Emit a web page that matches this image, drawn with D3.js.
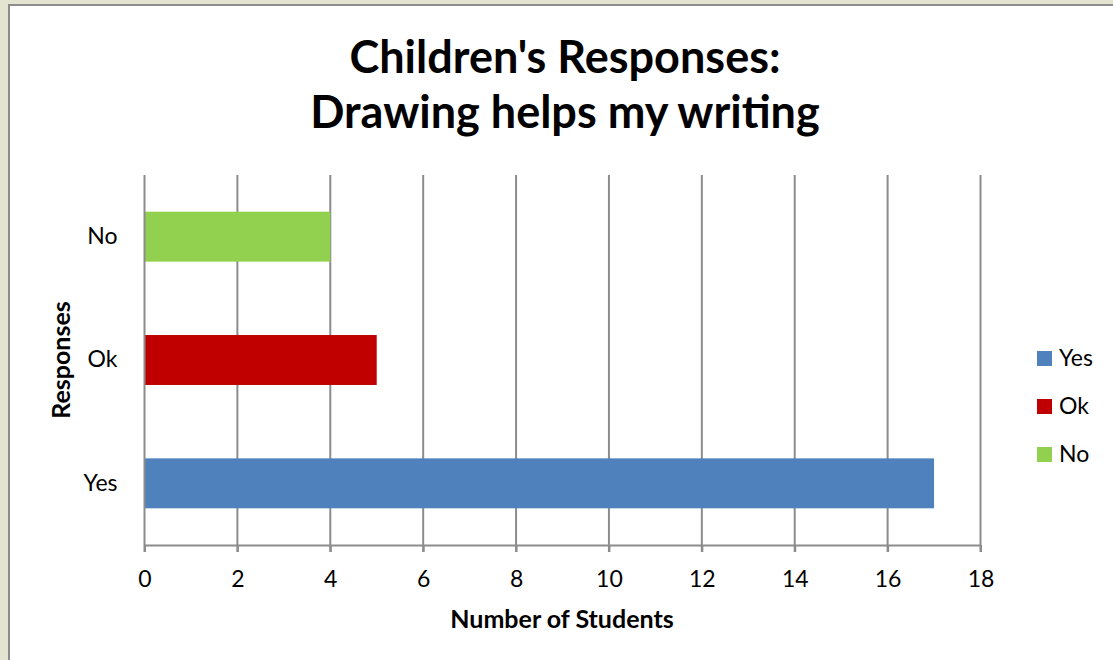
<!DOCTYPE html>
<html><head><meta charset="utf-8">
<script src="https://cdn.jsdelivr.net/npm/d3@7"></script>
<style>
html,body{margin:0;padding:0;background:#e3e5d1;}
svg{display:block;}
text{font-family:Lato,"Open Sans",sans-serif;fill:#000;}
</style></head><body>
<script>
const categories = ["Yes", "Ok", "No"];
const values = [17, 5, 4];
const colors = ["#4f81bd", "#c00000", "#92d050"];
const xTicks = [0, 2, 4, 6, 8, 10, 12, 14, 16, 18];
const titleLines = ["Children's Responses:", "Drawing helps my writing"];
const xTitle = "Number of Students";
const yTitle = "Responses";

const W = 1113, H = 660;
const svg = d3.select("body").append("svg").attr("width", W).attr("height", H);

// chart frame
svg.append("rect").attr("x", 9).attr("y", 5).attr("width", W + 10).attr("height", H + 10)
  .attr("fill", "#fff").attr("stroke", "#8c8c8c").attr("stroke-width", 2);

const plot = {left: 144.5, right: 980.5, top: 175, bottom: 545};
const x = d3.scaleLinear().domain([0, 18]).range([plot.left, plot.right]);
const y = d3.scaleBand().domain(categories.slice().reverse()).range([plot.top, plot.bottom])
  .paddingInner(0.595).paddingOuter(0.2975);

// gridlines
svg.append("g").selectAll("line").data(xTicks.filter(d => d > 0)).join("line")
  .attr("x1", d => x(d)).attr("x2", d => x(d))
  .attr("y1", plot.top).attr("y2", plot.bottom + 7)
  .attr("stroke", "#8c8c8c").attr("stroke-width", 2);

// bars
svg.append("g").selectAll("rect").data(categories).join("rect")
  .attr("x", x(0)).attr("y", d => y(d))
  .attr("width", (d, i) => x(values[i]) - x(0))
  .attr("height", y.bandwidth())
  .attr("fill", (d, i) => colors[i]);

// x axis
const xa = svg.append("g").attr("transform", `translate(0,${plot.bottom})`)
  .call(d3.axisBottom(x).tickValues(xTicks).tickSize(7).tickSizeOuter(0));
xa.select(".domain").attr("stroke", "#8c8c8c").attr("stroke-width", 2);
xa.selectAll(".tick line").attr("stroke", "#8c8c8c").attr("stroke-width", 2);
xa.selectAll(".tick text").attr("font-size", 23).attr("font-family", "Lato, sans-serif")
  .attr("fill", "#000").attr("y", 42).attr("dy", 0);

// y axis
const ya = svg.append("g").attr("transform", `translate(${plot.left},0)`)
  .call(d3.axisLeft(y).tickSize(0).tickPadding(27));
ya.select(".domain").attr("stroke", "#8c8c8c").attr("stroke-width", 2)
  .attr("d", `M0,${plot.top}V${plot.bottom + 7}`);
ya.selectAll(".tick text").attr("font-size", 23).attr("font-family", "Lato, sans-serif").attr("fill", "#000");

// title
svg.append("g").selectAll("text").data(titleLines).join("text")
  .attr("x", 565).attr("y", (d, i) => 73 + i * 55)
  .attr("text-anchor", "middle").attr("font-size", 45).attr("font-weight", "bold")
  .text(d => d);

svg.append("text").attr("x", 562).attr("y", 628).attr("text-anchor", "middle")
  .attr("font-size", 25).attr("font-weight", "bold").text(xTitle);

svg.append("text").attr("transform", "translate(70,360) rotate(-90)").attr("text-anchor", "middle")
  .attr("font-size", 25).attr("font-weight", "bold").text(yTitle);

// legend
const lg = svg.append("g").selectAll("g").data(categories).join("g")
  .attr("transform", (d, i) => `translate(1037,${351 + i * 48})`);
lg.append("rect").attr("width", 15).attr("height", 15).attr("fill", (d, i) => colors[i]);
lg.append("text").attr("x", 22).attr("y", 15).attr("font-size", 23).text(d => d);
</script>
</body></html>
